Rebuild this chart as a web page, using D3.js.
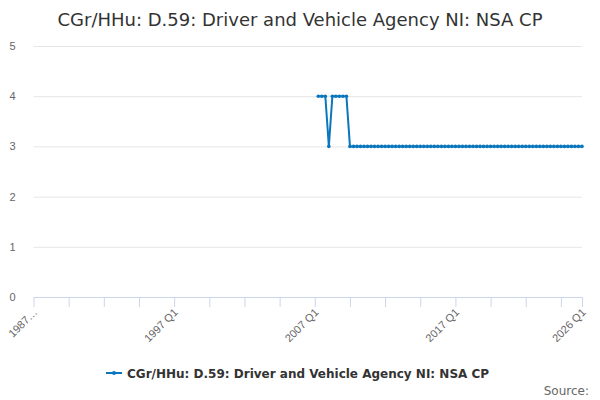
<!DOCTYPE html>
<html>
<head>
<meta charset="utf-8">
<script src="https://cdn.jsdelivr.net/npm/d3@7"></script>
<style>
  body { margin: 0; background: #fff; }
  svg { font-family: "DejaVu Sans", sans-serif; }
</style>
</head>
<body>
<svg id="chart" width="600" height="400"></svg>
<script>
// quarters from 1987 Q1 to 2026 Q1
const quarters = [];
for (let yr = 1987; yr <= 2026; yr++)
{
  for (let q = 1; q <= 4; q++)
  {
    if (yr === 2026 && q > 1) break;
    quarters.push(yr + " Q" + q);
  }
}

const seriesName = "CGr/HHu: D.59: Driver and Vehicle Agency NI: NSA CP";
const firstQuarter = "2007 Q2";
const seriesValues = [
  4, 4, 4, 3, 4, 4, 4, 4, 4, 3,
  3, 3, 3, 3, 3, 3, 3, 3, 3, 3,
  3, 3, 3, 3, 3, 3, 3, 3, 3, 3,
  3, 3, 3, 3, 3, 3, 3, 3, 3, 3,
  3, 3, 3, 3, 3, 3, 3, 3, 3, 3,
  3, 3, 3, 3, 3, 3, 3, 3, 3, 3,
  3, 3, 3, 3, 3, 3, 3, 3, 3, 3,
  3, 3, 3, 3, 3, 3
];
const yTicks = [0, 1, 2, 3, 4, 5];
const xTickEvery = 10;
const xLabels = { "1987 Q1": "1987…", "1997 Q1": "1997 Q1", "2007 Q1": "2007 Q1",
                  "2017 Q1": "2017 Q1", "2026 Q1": "2026 Q1" };

const start = quarters.indexOf(firstQuarter);
const points = seriesValues.map((v, i) => ({ q: quarters[start + i], v: v }));

const svg = d3.select("#chart");
const plotLeft = 33.5, plotRight = 582, plotTop = 46, plotBottom = 297;
const color = "#0a76bd";

const x = d3.scalePoint().domain(quarters).range([ plotLeft, plotRight ]);
const y = d3.scaleLinear().domain([ 0, 5 ]).range([ plotBottom, plotTop ]);

// title
svg.append("text").attr("x", 300).attr("y", 26)
    .attr("text-anchor", "middle").attr("fill", "#333")
    .style("font-size", "18px").text(seriesName);

// grid + y labels
let yAxis = d3.axisLeft(y).tickValues(yTicks).tickSize(-(plotRight - plotLeft))
    .tickFormat(d3.format("d"));
let gy = svg.append("g")
    .attr("transform", "translate(" + plotLeft + ",0)").call(yAxis);
gy.select(".domain").remove();
gy.selectAll("text").attr("x", -18).attr("fill", "#666")
    .style("font-size", "11px");
gy.selectAll("line").attr("stroke", "#e6e6e6");

// x axis
let tickQuarters = quarters.filter((q, i) => i % xTickEvery === 0 ||
                                             i === quarters.length - 1);
let xAxis = d3.axisBottom(x).tickValues(tickQuarters).tickSize(10)
    .tickSizeOuter(0).tickFormat(q => xLabels[q] || "");
let gx = svg.append("g").attr("transform", "translate(0," + plotBottom + ")")
    .call(xAxis);
gx.select(".domain").attr("stroke", "#ccd6eb");
gx.selectAll("line").attr("stroke", "#ccd6eb");
gx.selectAll("text").attr("fill", "#666").style("font-size", "11px")
    .attr("text-anchor", "end").attr("dy", null).attr("y", 0)
    .attr("transform", "translate(4,16) rotate(-45)");

// series line
let line = d3.line().x(d => x(d.q)).y(d => y(d.v));
svg.append("path").datum(points).attr("fill", "none")
    .attr("stroke", color).attr("stroke-width", 2)
    .attr("stroke-linejoin", "round").attr("d", line);
svg.append("g").selectAll("circle").data(points).enter().append("circle")
    .attr("cx", d => x(d.q)).attr("cy", d => y(d.v)).attr("r", 1.8)
    .attr("fill", color);

// legend
let legend = svg.append("g").attr("transform", "translate(106,373)");
legend.append("line").attr("x1", 0).attr("x2", 16).attr("y1", 0)
    .attr("y2", 0).attr("stroke", color).attr("stroke-width", 2);
legend.append("circle").attr("cx", 8).attr("cy", 0).attr("r", 2)
    .attr("fill", color);
legend.append("text").attr("x", 21).attr("y", 4.5).attr("fill", "#333")
    .style("font-size", "12px").style("font-weight", "bold").text(seriesName);

// credits
svg.append("text").attr("x", 589).attr("y", 395).attr("text-anchor", "end")
    .attr("fill", "#666").style("font-size", "12px").text("Source:");
</script>
</body>
</html>
